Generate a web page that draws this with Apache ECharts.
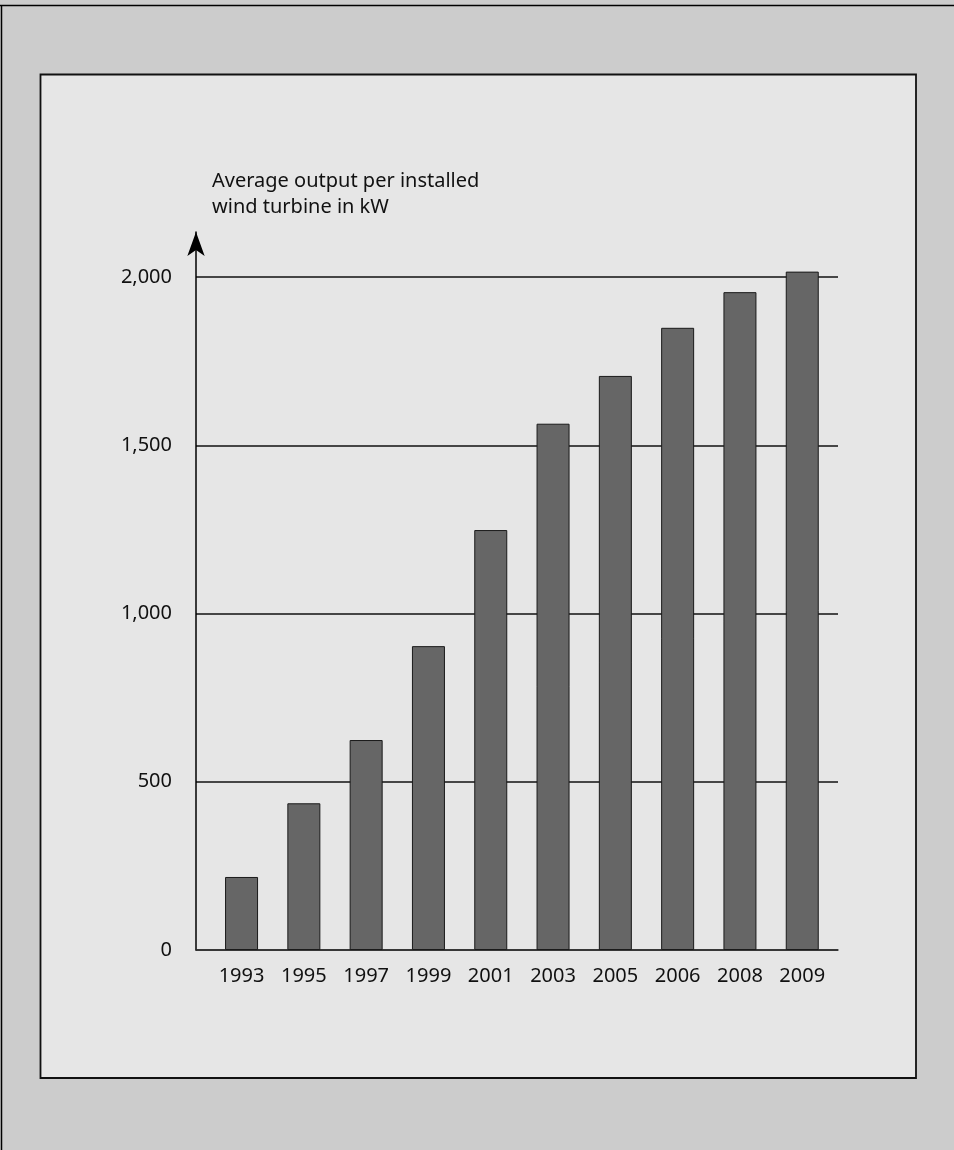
<!DOCTYPE html>
<html>
<head>
<meta charset="utf-8">
<style>
  html, body { margin: 0; padding: 0; background: #cccccc; }
  #chart { width: 954px; height: 1150px; }
</style>
<script src="https://cdn.jsdelivr.net/npm/echarts@6/dist/echarts.min.js"></script>
</head>
<body>
<div id="chart"></div>
<script>
const years = ['1993', '1995', '1997', '1999', '2001', '2003', '2005', '2006', '2008', '2009'];
const outputKW = [217, 436, 624, 903, 1248, 1564, 1706, 1849, 1955, 2016];
const yTicks = [0, 500, 1000, 1500, 2000];
const yTitle = 'Average output per installed\nwind turbine in kW';

const FONT = 'Noto Sans';
const TEXT = '#111111';
const yMin = yTicks[0], yMax = yTicks[yTicks.length - 1], yStep = yTicks[1] - yTicks[0];

const chart = echarts.init(document.getElementById('chart'), null, { renderer: 'canvas' });
chart.setOption({
  backgroundColor: '#cccccc',
  animation: false,
  textStyle: { fontFamily: FONT },
  title: {
    text: yTitle,
    left: 207, top: 163,
    textStyle: { fontFamily: FONT, fontSize: 20, fontWeight: 'normal', color: TEXT, lineHeight: 26 }
  },
  graphic: { elements: [
    { type: 'line', z: -100, shape: { x1: 0, y1: 5.5, x2: 954, y2: 5.5 }, style: { stroke: '#000', lineWidth: 1.5 } },
    { type: 'line', z: -100, shape: { x1: 1.5, y1: 5, x2: 1.5, y2: 1150 }, style: { stroke: '#000', lineWidth: 1.5 } },
    { type: 'rect', z: -90, shape: { x: 40.5, y: 74.5, width: 875.5, height: 1003.5 }, style: { fill: '#e6e6e6', stroke: '#111', lineWidth: 1.8 } }
  ]},
  grid: [
    { left: 196, right: 116, top: 277, bottom: 200 },
    { left: 210.4, right: 120.6, top: 277, bottom: 200 },
    { left: 196, right: 116, top: 232, bottom: 200 }
  ],
  xAxis: [
    { gridIndex: 0, type: 'value', min: 0, max: 1, position: 'bottom',
      axisLine: { show: true, onZero: false, lineStyle: { color: '#333', width: 1.5 } },
      axisTick: { show: false }, axisLabel: { show: false }, splitLine: { show: false } },
    { gridIndex: 1, type: 'category', data: years,
      axisLine: { show: false }, axisTick: { show: false },
      axisLabel: { fontFamily: FONT, fontSize: 20, color: TEXT, margin: 16 } },
    { gridIndex: 2, type: 'value', min: 0, max: 1, show: false }
  ],
  yAxis: [
    { gridIndex: 0, type: 'value', min: yMin, max: yMax, interval: yStep,
      axisLine: { show: false }, axisTick: { show: false },
      splitLine: { show: true, lineStyle: { color: '#111', width: 1.5 } },
      axisLabel: { fontFamily: FONT, fontSize: 20, color: TEXT, margin: 24,
        formatter: v => v.toLocaleString('en-US') } },
    { gridIndex: 1, type: 'value', min: yMin, max: yMax, show: false },
    { gridIndex: 2, type: 'value', min: 0, max: 1,
      axisLine: { show: true, onZero: false, symbol: ['none', 'arrow'], symbolSize: [13, 24],
        lineStyle: { color: '#000', width: 1.5 } },
      axisTick: { show: false }, axisLabel: { show: false }, splitLine: { show: false } }
  ],
  series: [{
    type: 'bar', xAxisIndex: 1, yAxisIndex: 1, clip: false,
    data: outputKW, barWidth: 33,
    itemStyle: { color: '#666666', borderColor: '#1a1a1a', borderWidth: 1 }
  }]
});
</script>
</body>
</html>
